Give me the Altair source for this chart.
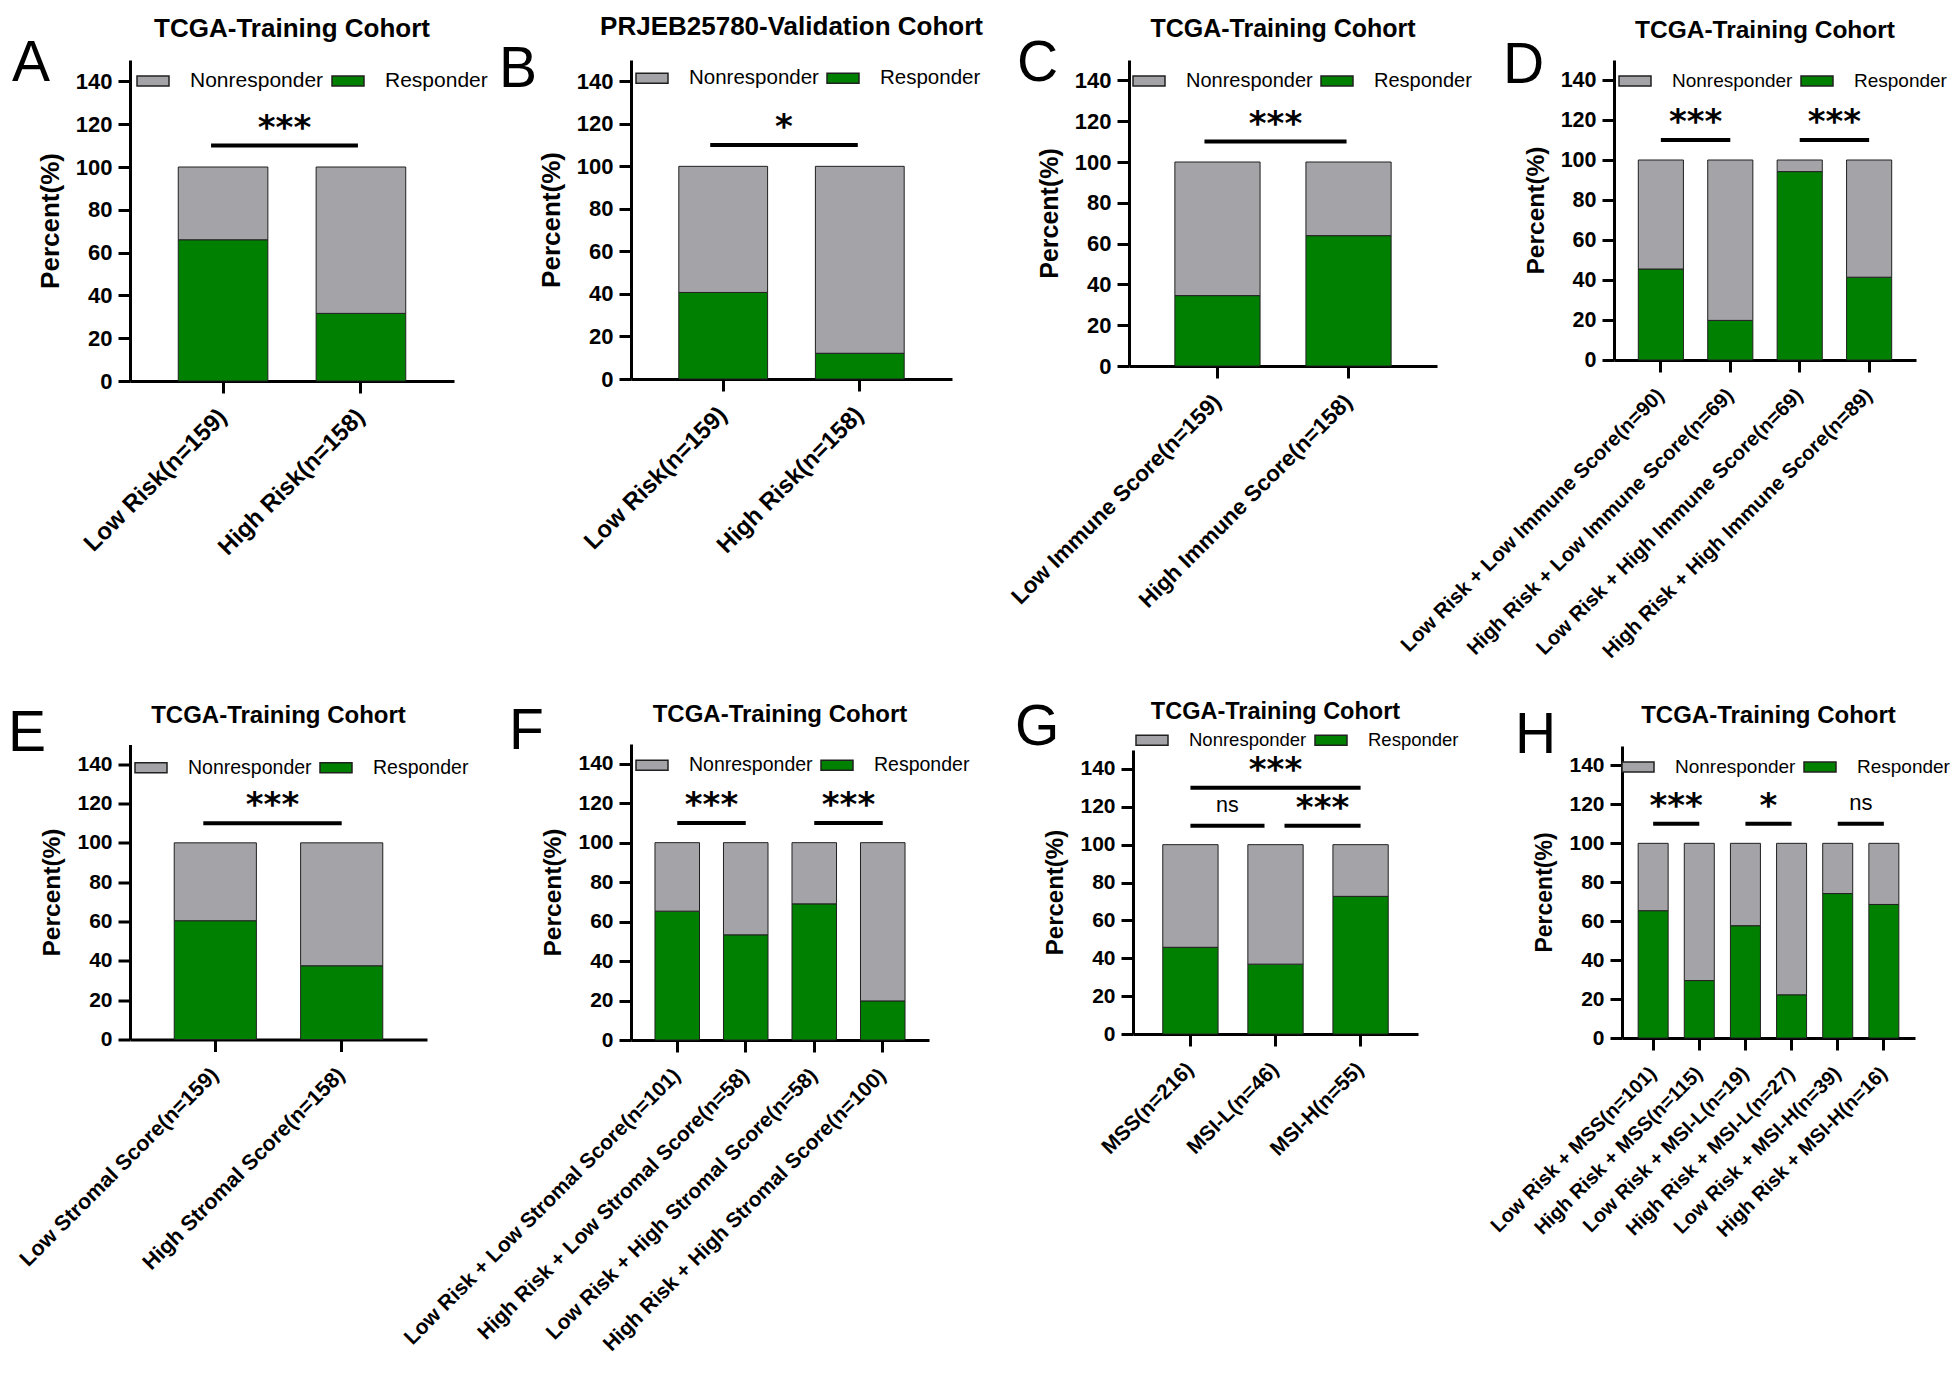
import altair as alt
import pandas as pd

GREEN = "#008000"
GRAY = "#A4A4A8"
FONT = "Liberation Sans"
STAR_FONT = "DejaVu Sans"

# ---------------- data ----------------
A_cats = ["Low Risk(n=159)", "High Risk(n=158)"]
A_resp = [66.0, 31.6]
A_nonresp = [34.0, 68.4]
A_sig = [("Low Risk(n=159)", "High Risk(n=158)", 110, "***")]

B_cats = ["Low Risk(n=159)", "High Risk(n=158)"]
B_resp = [40.7, 12.1]
B_nonresp = [59.3, 87.9]
B_sig = [("Low Risk(n=159)", "High Risk(n=158)", 110, "*")]

C_cats = ["Low Immune Score(n=159)", "High Immune Score(n=158)"]
C_resp = [34.5, 63.9]
C_nonresp = [65.5, 36.1]
C_sig = [("Low Immune Score(n=159)", "High Immune Score(n=158)", 110, "***")]

D_cats = ["Low Risk + Low Immune Score(n=90)", "High Risk + Low Immune Score(n=69)",
          "Low Risk + High Immune Score(n=69)", "High Risk + High Immune Score(n=89)"]
D_resp = [45.5, 19.8, 94.2, 41.4]
D_nonresp = [54.5, 80.2, 5.8, 58.6]
D_sig = [("Low Risk + Low Immune Score(n=90)", "High Risk + Low Immune Score(n=69)", 110, "***"),
         ("Low Risk + High Immune Score(n=69)", "High Risk + High Immune Score(n=89)", 110, "***")]

E_cats = ["Low Stromal Score(n=159)", "High Stromal Score(n=158)"]
E_resp = [60.4, 37.5]
E_nonresp = [39.6, 62.5]
E_sig = [("Low Stromal Score(n=159)", "High Stromal Score(n=158)", 110, "***")]

F_cats = ["Low Risk + Low Stromal Score(n=101)", "High Risk + Low Stromal Score(n=58)",
          "Low Risk + High Stromal Score(n=58)", "High Risk + High Stromal Score(n=100)"]
F_resp = [65.3, 53.3, 69.0, 19.8]
F_nonresp = [34.7, 46.7, 31.0, 80.2]
F_sig = [("Low Risk + Low Stromal Score(n=101)", "High Risk + Low Stromal Score(n=58)", 110, "***"),
         ("Low Risk + High Stromal Score(n=58)", "High Risk + High Stromal Score(n=100)", 110, "***")]

G_cats = ["MSS(n=216)", "MSI-L(n=46)", "MSI-H(n=55)"]
G_resp = [45.8, 36.9, 72.7]
G_nonresp = [54.2, 63.1, 27.3]
G_sig = [("MSS(n=216)", "MSI-L(n=46)", 110, "ns"),
         ("MSI-L(n=46)", "MSI-H(n=55)", 110, "***"),
         ("MSS(n=216)", "MSI-H(n=55)", 130, "***")]

H_cats = ["Low Risk + MSS(n=101)", "High Risk + MSS(n=115)", "Low Risk + MSI-L(n=19)",
          "High Risk + MSI-L(n=27)", "Low Risk + MSI-H(n=39)", "High Risk + MSI-H(n=16)"]
H_resp = [65.4, 29.5, 57.7, 22.2, 74.2, 68.6]
H_nonresp = [34.6, 70.5, 42.3, 77.8, 25.8, 31.4]
H_sig = [("Low Risk + MSS(n=101)", "High Risk + MSS(n=115)", 110, "***"),
         ("Low Risk + MSI-L(n=19)", "High Risk + MSI-L(n=27)", 110, "*"),
         ("Low Risk + MSI-H(n=39)", "High Risk + MSI-H(n=16)", 110, "ns")]

Y_TICKS = [0, 20, 40, 60, 80, 100, 120, 140]
GROUPS = ["Nonresponder", "Responder"]

PAD_IN = 0.35
PAD_OUT = 0.35

# ---------------- styles (sizes / positions only) ----------------
STY = {
    "A": dict(w=324, h=321, tfs=26, yt=26, yl=22, xl=24, lfs=21, legx=17, legy=20,
              let=(-118, 21), ty=-23, offs=[(-12, -3)]),
    "B": dict(w=321, h=319, tfs=26, yt=26, yl=22, xl=24, lfs=20.5, legx=15, legy=17,
              let=(-132, 27), ty=-25, offs=[(-13, -2)]),
    "C": dict(w=308, h=306, tfs=25, yt=25, yl=22, xl=22.5, lfs=20, legx=14, legy=20,
              let=(-112, 21), ty=-23, offs=[(-13, -2)]),
    "D": dict(w=302, h=300, tfs=24.5, yt=24.5, yl=21.5, xl=20.5, lfs=19, legx=15, legy=20,
              let=(-111, 23), ty=-22, offs=[(0, 0), (0, 0)]),
    "E": dict(w=297, h=295, tfs=24, yt=24.5, yl=21, xl=21.5, lfs=19.5, legx=15, legy=22,
              let=(-122, 6), ty=-22, offs=[(-12, 0)]),
    "F": dict(w=298, h=296, tfs=24, yt=24.5, yl=21, xl=21, lfs=19.5, legx=15, legy=20,
              let=(-122, 5), ty=-22, offs=[(0, 0), (0, 0)]),
    "G": dict(w=285, h=284, tfs=23.5, yt=24, yl=21, xl=21, lfs=18.5, legx=13, legy=-11,
              let=(-118, -5), ty=-31, offs=[(0, -11), (9, 0), (0, 0)]),
    "H": dict(w=293, h=292, tfs=24, yt=23, yl=21, xl=20, lfs=19, legx=10, legy=20,
              let=(-107, 7), ty=-23, offs=[(0, 0), (0, 0), (0, 0)]),
}

LEG_SYMBOL = "M-1.6,-0.5H1.6V0.5H-1.6Z"


def make_panel(letter, title, cats, resp, nonresp, sigs, st):
    w, h = st["w"], st["h"]
    n_cat = len(cats)
    step = w / (n_cat - PAD_IN + 2 * PAD_OUT)
    rows = []
    for c, r, n in zip(cats, resp, nonresp):
        rows.append({"cat": c, "group": "Responder", "value": r, "ord": 0})
        rows.append({"cat": c, "group": "Nonresponder", "value": n, "ord": 1})
    df = pd.DataFrame(rows)

    xscale = alt.Scale(domain=list(cats), paddingInner=PAD_IN, paddingOuter=PAD_OUT)
    yscale = alt.Scale(domain=[0, 150], nice=False)

    bars = alt.Chart(df).mark_bar(stroke="#202020", strokeWidth=1).encode(
        x=alt.X("cat:N", scale=xscale, sort=list(cats),
                axis=alt.Axis(title=None, labelAngle=-45, labelAlign="right",
                              labelBaseline="middle", labelFontSize=st["xl"],
                              labelFont=FONT, labelFontWeight="bold", labelColor="black",
                              labelLimit=1000, labelOverlap=False, labelPadding=20,
                              tickSize=12, tickWidth=3, tickColor="black",
                              domainWidth=3, domainColor="black", grid=False)),
        y=alt.Y("value:Q", stack="zero", scale=yscale,
                axis=alt.Axis(title="Percent(%)", values=Y_TICKS, titleFontSize=st["yt"],
                              titleFont=FONT, titleFontWeight="bold", titleColor="black",
                              titlePadding=12, labelFontSize=st["yl"], labelFont=FONT,
                              labelFontWeight="bold", labelColor="black", labelPadding=6,
                              tickSize=12, tickWidth=3, tickColor="black",
                              domainWidth=3, domainColor="black", grid=False)),
        color=alt.Color("group:N",
                        scale=alt.Scale(domain=GROUPS, range=[GRAY, GREEN]),
                        legend=alt.Legend(orient="none", legendX=st["legx"] - 5,
                                          legendY=st["legy"] - 10, direction="horizontal",
                                          title=None, symbolType=LEG_SYMBOL, symbolSize=400,
                                          symbolStrokeColor="#202020", symbolStrokeWidth=1.5,
                                          labelFontSize=st["lfs"], labelFont=FONT,
                                          labelColor="black", labelOffset=26,
                                          columnPadding=5)),
        order=alt.Order("ord:Q"),
    )

    layers = [bars]
    for (c1, c2, yv, lab), (o1, o2) in zip(sigs, st["offs"]):
        sdf = pd.DataFrame({"c1": [c1], "c2": [c2], "y": [yv], "lab": [lab]})
        k = list(cats).index(c2) - list(cats).index(c1)
        rule = alt.Chart(sdf).mark_rule(color="black", strokeWidth=4,
                                        xOffset=o1, x2Offset=o2).encode(
            x=alt.X("c1:N", scale=xscale, bandPosition=0.5),
            x2=alt.X2("c2:N", bandPosition=0.5),
            y=alt.Y("y:Q", scale=yscale),
        )
        shift = k * step / 2 + (o1 + o2) / 2
        if lab == "ns":
            tmark = alt.Chart(sdf).mark_text(font=FONT, fontSize=st["lfs"] + 3, color="black",
                                             baseline="alphabetic", align="center",
                                             dx=shift, dy=-14)
        else:
            tmark = alt.Chart(sdf).mark_text(font=STAR_FONT, fontWeight="bold", fontSize=34,
                                             color="black", baseline="alphabetic",
                                             align="center", dx=shift, dy=-7)
        txt = tmark.encode(
            x=alt.X("c1:N", scale=xscale, bandPosition=0.5),
            y=alt.Y("y:Q", scale=yscale),
            text="lab:N",
        )
        layers += [rule, txt]

    let_df = pd.DataFrame({"t": [letter]})
    let_mark = alt.Chart(let_df).mark_text(font=FONT, fontSize=57, color="black",
                                           align="left", baseline="alphabetic").encode(
        x=alt.value(st["let"][0]), y=alt.value(st["let"][1]), text="t:N")
    tit_df = pd.DataFrame({"t": [title]})
    tit_mark = alt.Chart(tit_df).mark_text(font=FONT, fontSize=st["tfs"], fontWeight="bold",
                                           color="black", align="center",
                                           baseline="alphabetic").encode(
        x=alt.value(w / 2), y=alt.value(st["ty"]), text="t:N")
    layers += [let_mark, tit_mark]

    return alt.layer(*layers).properties(width=w, height=h)


TCGA = "TCGA-Training Cohort"
pA = make_panel("A", TCGA, A_cats, A_resp, A_nonresp, A_sig, STY["A"])
pB = make_panel("B", "PRJEB25780-Validation Cohort", B_cats, B_resp, B_nonresp, B_sig, STY["B"])
pC = make_panel("C", TCGA, C_cats, C_resp, C_nonresp, C_sig, STY["C"])
pD = make_panel("D", TCGA, D_cats, D_resp, D_nonresp, D_sig, STY["D"])
pE = make_panel("E", TCGA, E_cats, E_resp, E_nonresp, E_sig, STY["E"])
pF = make_panel("F", TCGA, F_cats, F_resp, F_nonresp, F_sig, STY["F"])
pG = make_panel("G", TCGA, G_cats, G_resp, G_nonresp, G_sig, STY["G"])
pH = make_panel("H", TCGA, H_cats, H_resp, H_nonresp, H_sig, STY["H"])

row1 = alt.hconcat(pA, pB, pC, pD, spacing=177, bounds="flush").resolve_scale(color="independent")
row2 = alt.hconcat(pE, pF, pG, pH, spacing=204, bounds="flush",
                   center=True).resolve_scale(color="independent")

chart = (
    alt.vconcat(row1, row2, spacing=36)
    .resolve_scale(color="independent")
    .properties(padding={"top": 6, "left": 0, "right": 0, "bottom": 0}, background="white")
    .configure_view(stroke=None)
)

chart.save("out.html", embed_options={"renderer": "svg", "actions": False})
